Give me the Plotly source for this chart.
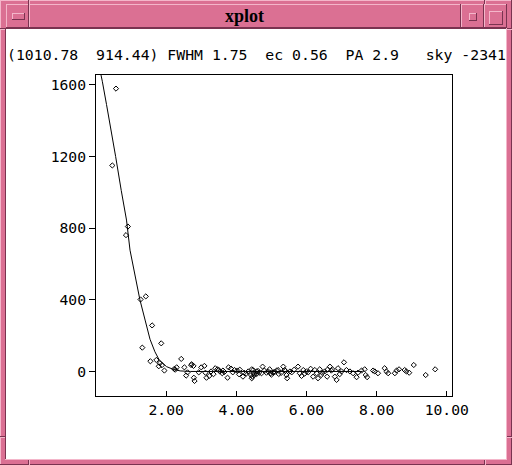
import plotly.graph_objects as go

# ---- data ----
radius = [0.57, 0.465, 0.91, 0.855, 1.27, 1.42, 1.60, 1.86, 1.32,
          1.55, 1.72, 1.82, 1.79, 1.95, 1.88,
          2.23, 2.26, 2.30, 2.43, 2.52, 2.57, 2.61, 2.71, 2.73, 2.78, 2.79, 2.81, 2.93,
          3.00, 3.09, 3.12, 3.15, 3.23, 3.28, 3.35, 3.40, 3.46, 3.50, 3.53, 3.60, 3.62, 3.66,
          3.75, 3.78, 3.85, 3.90, 3.95, 4.03, 4.08, 4.10, 4.19, 4.22, 4.28, 4.34, 4.42, 4.44,
          4.44, 4.46, 4.48, 4.50, 4.52, 4.58, 4.58, 4.62, 4.65, 4.72, 4.75, 4.80, 4.86, 4.91,
          4.95, 4.98, 5.00, 5.05, 5.05, 5.10, 5.15, 5.19, 5.21, 5.28, 5.34, 5.38, 5.40, 5.43,
          5.45, 5.53, 5.58, 5.65, 5.76, 5.81, 5.86, 5.91, 5.95, 6.00, 6.05, 6.12, 6.19, 6.24,
          6.29, 6.33, 6.38, 6.42, 6.45, 6.52, 6.59, 6.60, 6.67, 6.71, 6.74, 6.81, 6.86, 6.90,
          6.95, 7.00, 7.07, 7.14, 7.24, 7.33, 7.43, 7.47, 7.57, 7.66, 7.69, 7.73, 7.90, 7.95,
          8.04, 8.23, 8.28, 8.33, 8.52, 8.57, 8.64, 8.80, 8.85, 8.93, 9.06, 9.40, 9.67]
counts = [1579, 1150, 809, 761, 402, 419, 257, 157, 133,
          57, 64, 46, 29, 5, 35,
          14, 10, 23, 70, 23, -23, -5, 36, 40, 31, -35, -53, -5,
          23, 31, -7, -35, -25, 0, -15, 18, 12, 8, 0, -10, 5, -3,
          -35, 23, 16, -5, 8, 5, -16, 10, -29, -7, -12, 0, -20, 12,
          -38, -29, 8, -10, -18, -14, 0, 3, -7, -10, 27, 5, -7, 0,
          12, -10, -18, -5, -7, -3, 5, 8, -14, -8, 27, 8, 3, -20,
          -38, 0, -5, 10, 27, -10, -25, 8, -12, 0, -5, 15, -29, 8,
          -10, -38, 12, -20, -8, 0, -29, 10, 27, 5, 12, -29, -47, 18,
          -15, 0, 51, 8, 0, -10, -32, -7, 5, 12, -20, -32, 5, 0,
          -10, 18, 0, -10, -10, 5, 12, 8, 0, -7, 36, -20, 12]

fit_r = [0.00, 0.10, 0.18, 0.30, 0.45, 0.56, 0.72, 0.87, 0.97, 1.14, 1.25, 1.40, 1.54,
         1.68, 1.80, 2.01, 2.20, 2.40, 2.70, 3.50, 4.50, 5.50, 6.50, 7.60]
fit_v = [1790, 1700, 1620, 1490, 1335, 1200, 1010, 845, 677, 510, 402, 287, 180,
         110, 65, 27, 12, 3, 0, 0, 0, 0, 0, 0]

x_ticks = [2, 4, 6, 8, 10]
x_labels = ["2.00", "4.00", "6.00", "8.00", "10.00"]
y_ticks = [0, 400, 800, 1200, 1600]
y_labels = ["0", "400", "800", "1200", "1600"]

header = "(1010.78  914.44) FWHM 1.75  ec 0.56  PA 2.9   sky -2341"
title = "xplot"

# ---- geometry helpers (window pixels -> paper) ----
L, R, T, B = 96, 452, 75, 396
W, H = 512, 465
def px(x):
    return (x - L) / (R - L)
def py(y):
    return (B - y) / (B - T)

PINK = "#DB7093"
LIGHT = "#F4B6CA"
DARK = "#7A3350"
MONO = "DejaVu Sans Mono"

fig = go.Figure()
fig.add_trace(go.Scatter(x=fit_r, y=fit_v, mode="lines",
                         line=dict(color="black", width=1), hoverinfo="skip"))
fig.add_trace(go.Scatter(x=radius, y=counts, mode="markers",
                         marker=dict(symbol="diamond-open", size=4, color="black",
                                     line=dict(width=1, color="black"))))

shapes = []
def rect(x0, y0, x1, y1, fill=None, line=None, lw=1):
    shapes.append(dict(type="rect", xref="paper", yref="paper", layer="below",
                       x0=px(x0), x1=px(x1), y0=py(y0), y1=py(y1),
                       fillcolor=fill if fill else "rgba(0,0,0,0)",
                       line=dict(color=line if line else "rgba(0,0,0,0)", width=lw if line else 0)))
def hline(x0, x1, y, c, lw=1):
    shapes.append(dict(type="line", xref="paper", yref="paper", layer="below",
                       x0=px(x0), x1=px(x1), y0=py(y), y1=py(y), line=dict(color=c, width=lw)))
def vline(x, y0, y1, c, lw=1):
    shapes.append(dict(type="line", xref="paper", yref="paper", layer="below",
                       x0=px(x), x1=px(x), y0=py(y0), y1=py(y1), line=dict(color=c, width=lw)))
def bevel(x0, y0, x1, y1, raised=True):
    a, b = (LIGHT, DARK) if raised else (DARK, LIGHT)
    hline(x0, x1, y0 + 0.5, a)
    vline(x0 + 0.5, y0, y1, a)
    hline(x0, x1, y1 - 0.5, b)
    vline(x1 - 0.5, y0, y1, b)

# client area
rect(6, 29, 506, 459, fill="white")
# outer frame bevel
bevel(0, 0, W, H, raised=True)
# inner client edge (sunken)
bevel(5, 28, 507, 460, raised=False)
# title bar boxes
bevel(6, 4, 29, 28)
bevel(29, 4, 461, 28)
bevel(461, 4, 484, 28)
bevel(484, 4, 507, 28)
# button glyphs
bevel(12, 13, 25, 20)
bevel(469, 13, 477, 21)
bevel(489, 11, 503, 25)
# corner separators in outer border
for xs in (28, 484):
    vline(xs + 0.5, 0, 4, DARK)
    vline(xs + 1.5, 0, 4, LIGHT)
    vline(xs + 0.5, 460, 465, DARK)
    vline(xs + 1.5, 460, 465, LIGHT)
for ys in (28, 436):
    hline(0, 5, ys + 0.5, DARK)
    hline(0, 5, ys + 1.5, LIGHT)
    hline(507, 512, ys + 0.5, DARK)
    hline(507, 512, ys + 1.5, LIGHT)

annotations = [
    dict(text="<b>%s</b>" % title, xref="paper", yref="paper", x=px(244), y=py(16),
         xanchor="center", yanchor="middle", showarrow=False,
         font=dict(family="Liberation Serif", size=18, color="black")),
    dict(text=header.replace(" ", "\u00a0"), xref="paper", yref="paper", x=px(5), y=py(54),
         xanchor="left", yanchor="middle", showarrow=False,
         font=dict(family=MONO, size=14.8, color="black")),
]

fig.update_layout(
    width=W, height=H,
    margin=dict(l=L, r=W - R, t=T, b=H - B, pad=0),
    paper_bgcolor=PINK, plot_bgcolor="white",
    showlegend=False,
    shapes=shapes, annotations=annotations,
    xaxis=dict(range=[0, 10.15], tickvals=x_ticks, ticktext=x_labels,
               ticks="inside", ticklen=5, tickcolor="black", tickwidth=1,
               showline=True, linecolor="black", linewidth=1, mirror=True,
               showgrid=False, zeroline=False,
               tickfont=dict(family=MONO, size=14.7, color="black")),
    yaxis=dict(range=[-137, 1655], tickvals=y_ticks, ticktext=y_labels,
               ticks="outside", ticklen=6, tickcolor="black", tickwidth=1,
               showline=True, linecolor="black", linewidth=1, mirror=True,
               showgrid=False, zeroline=False,
               tickfont=dict(family=MONO, size=14.7, color="black")),
)

fig.write_html("out.html", config={"displayModeBar": False},
               post_script="document.body.style.margin='0';document.body.style.overflow='hidden';")
